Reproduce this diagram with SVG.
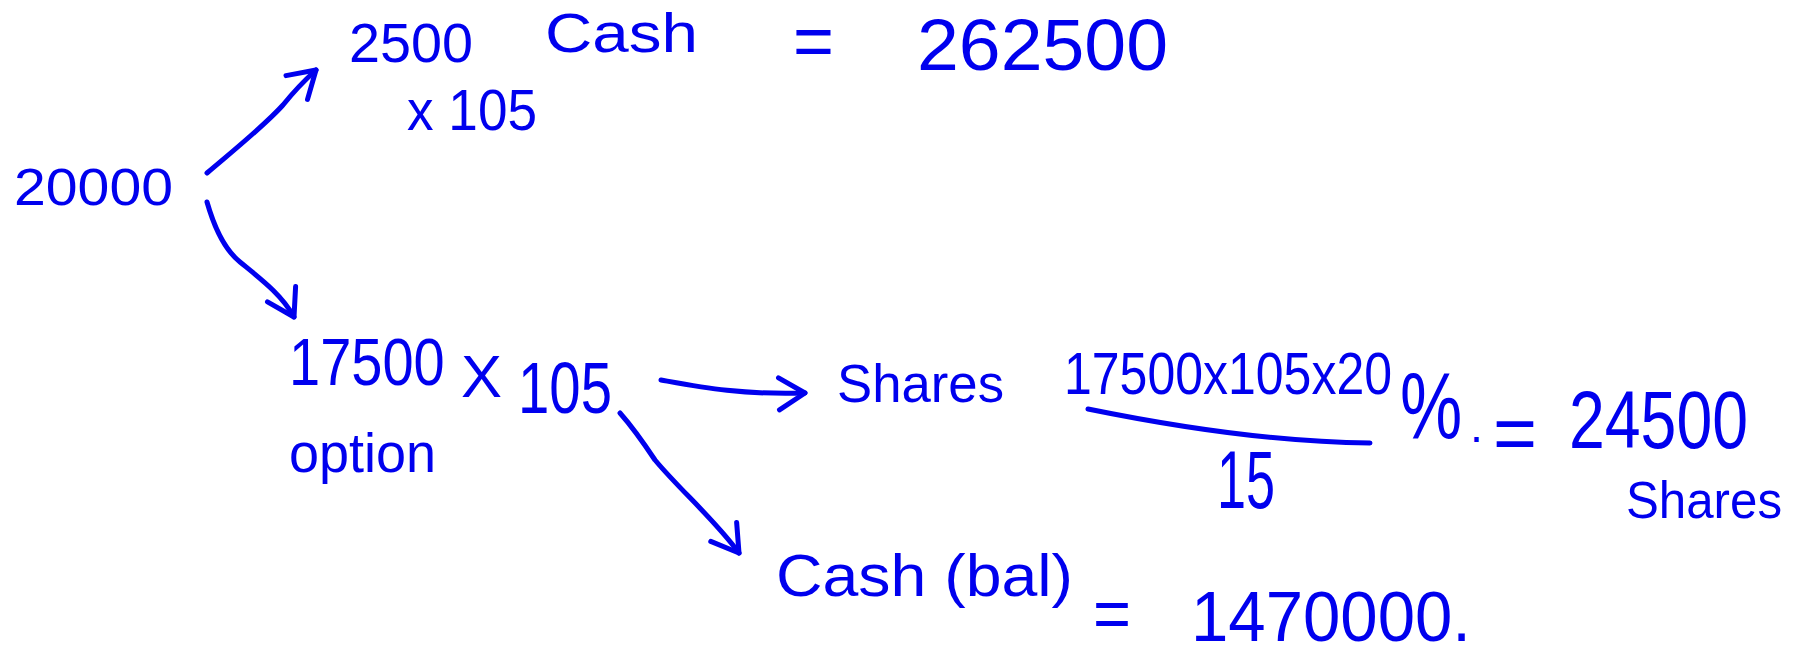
<svg xmlns="http://www.w3.org/2000/svg" width="1798" height="657" viewBox="0 0 1798 657">
<style>
text{font-family:"Liberation Sans","DejaVu Sans",sans-serif;fill:#0000ee}
.ln{fill:none;stroke:#0000ee;stroke-width:5;stroke-linecap:round;stroke-linejoin:round}
</style>
<defs>
<marker id="ah" markerUnits="userSpaceOnUse" viewBox="-32 -22 38 44" refX="0" refY="0" markerWidth="38" markerHeight="44" orient="auto">
<path d="M-26,-16 L0,0 L-26,16" fill="none" stroke="#0000ee" stroke-width="5" stroke-linecap="round" stroke-linejoin="round"/>
</marker>
</defs>
<rect width="1798" height="657" fill="#ffffff"/>
<g id="connectors">
<path class="ln" d="M207,173 C240,145 265,125 283,105 C295,90 305,80 316,70" marker-end="url(#ah)"/>
<path class="ln" d="M207,202 C215,230 225,250 240,262 C262,280 282,295 294,317" marker-end="url(#ah)"/>
<path class="ln" d="M661,380 C700,387 740,395 805,393" marker-end="url(#ah)"/>
<path class="ln" d="M620,413 C635,430 645,445 655,460 C680,490 715,520 739,553" marker-end="url(#ah)"/>
</g>
<g id="n-20000"><text x="14" y="205" font-size="52" textLength="159" lengthAdjust="spacingAndGlyphs">20000</text></g>
<g id="n-cash-top">
<text x="349" y="62" font-size="56" textLength="124" lengthAdjust="spacingAndGlyphs">2500</text>
<text x="545" y="52" font-size="56" textLength="153" lengthAdjust="spacingAndGlyphs">Cash</text>
<text x="793" y="66" font-size="75" textLength="41" lengthAdjust="spacingAndGlyphs">=</text>
<text x="917" y="70" font-size="72" textLength="251" lengthAdjust="spacingAndGlyphs">262500</text>
<text x="407" y="130" font-size="58" textLength="130" lengthAdjust="spacingAndGlyphs">x 105</text>
</g>
<g id="n-option">
<text transform="translate(289,385) scale(1,1.2)" font-size="56">17500</text>
<text x="461" y="397" font-size="60" textLength="41" lengthAdjust="spacingAndGlyphs">X</text>
<text transform="translate(518,413) scale(1,1.3)" font-size="56" textLength="94" lengthAdjust="spacingAndGlyphs">105</text>
<text x="289" y="472" font-size="56" textLength="147" lengthAdjust="spacingAndGlyphs">option</text>
</g>
<g id="n-shares">
<text x="837" y="402" font-size="54" textLength="167" lengthAdjust="spacingAndGlyphs">Shares</text>
<text transform="translate(1064,394) scale(1,1.2)" font-size="50">17500x105x20</text>
<text transform="translate(1400,438) scale(1,1.35)" font-size="70">%</text>
<path class="ln" d="M1088,409 Q1250,442 1370,443"/>
<text transform="translate(1217,508) scale(1,1.45)" font-size="56" textLength="58" lengthAdjust="spacingAndGlyphs">15</text>
<text x="1470" y="442" font-size="46">.</text>
<text x="1493" y="460" font-size="80" textLength="44" lengthAdjust="spacingAndGlyphs">=</text>
<text transform="translate(1569,448) scale(1,1.2)" font-size="68" textLength="179" lengthAdjust="spacingAndGlyphs">24500</text>
<text x="1626" y="518" font-size="52" textLength="156" lengthAdjust="spacingAndGlyphs">Shares</text>
</g>
<g id="n-cash-bal">
<text x="776" y="596" font-size="60" textLength="297" lengthAdjust="spacingAndGlyphs">Cash (bal)</text>
<text x="1093" y="638" font-size="70" textLength="38" lengthAdjust="spacingAndGlyphs">=</text>
<text x="1191" y="641" font-size="70" textLength="280" lengthAdjust="spacingAndGlyphs">1470000.</text>
</g>
</svg>
